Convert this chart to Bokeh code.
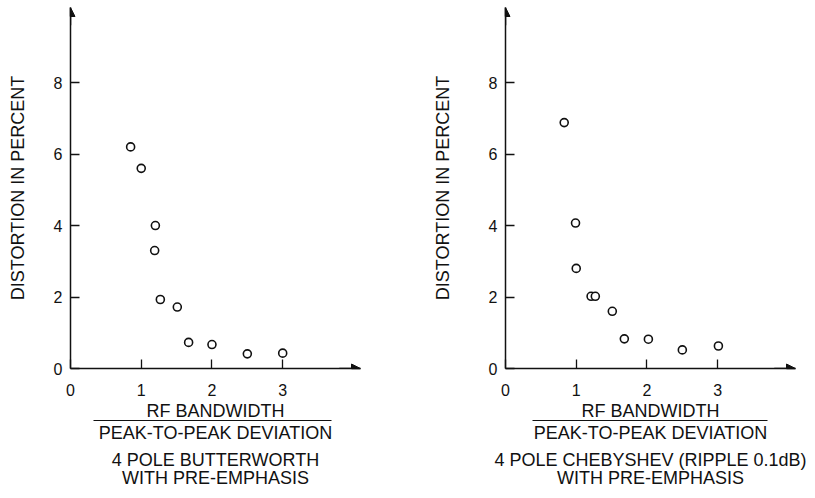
from bokeh.plotting import figure
from bokeh.layouts import row
from bokeh.models import Range1d, FixedTicker, Arrow, NormalHead, Title, LinearAxis
from bokeh.embed import file_html
from bokeh.resources import INLINE

# ---- data ----
butter_x = [0.85, 1.0, 1.2, 1.19, 1.27, 1.51, 1.67, 2.0, 2.5, 3.0]
butter_y = [6.2, 5.6, 4.0, 3.3, 1.93, 1.72, 0.73, 0.67, 0.41, 0.43]
cheby_x = [0.83, 0.99, 1.0, 1.21, 1.27, 1.51, 1.68, 2.02, 2.5, 3.01]
cheby_y = [6.88, 4.07, 2.8, 2.02, 2.02, 1.6, 0.83, 0.82, 0.52, 0.63]
x_ticks = [0, 1, 2, 3]
y_ticks = [0, 2, 4, 6, 8]
y_label = "DISTORTION IN PERCENT"
x_label_top = "RF BANDWIDTH"
x_label_bottom = "PEAK-TO-PEAK DEVIATION"
caption_butter = ["4 POLE BUTTERWORTH", "WITH PRE-EMPHASIS"]
caption_cheby = ["4 POLE CHEBYSHEV (RIPPLE 0.1dB)", "WITH PRE-EMPHASIS"]

FONT = "Liberation Sans"
INK = "#111111"
X_MAX = 4.1
Y_MAX = 10.1


def title(text, standoff, **kw):
    return Title(text=text, align="center", standoff=standoff,
                 text_font=FONT, text_font_size="18px", text_font_style="normal",
                 text_color=INK, **kw)


def make(xs, ys, caption, width, b_left, b_right, label_standoff, frac_bounds):
    p = figure(width=width, height=498, output_backend="svg", toolbar_location=None,
               x_range=Range1d(0, X_MAX), y_range=Range1d(0, Y_MAX),
               min_border_left=b_left, min_border_right=b_right,
               min_border_top=7, min_border_bottom=130)
    p.outline_line_color = None
    p.grid.visible = False
    p.background_fill_color = "white"

    # axes
    p.xaxis.ticker = FixedTicker(ticks=x_ticks)
    p.yaxis.ticker = FixedTicker(ticks=y_ticks)
    for ax in (p.xaxis, p.yaxis):
        ax.axis_line_color = INK
        ax.axis_line_width = 1.5
        ax.major_tick_line_color = INK
        ax.major_tick_line_width = 1.3
        ax.minor_tick_line_color = None
        ax.major_tick_in = 9
        ax.major_tick_out = 0
        ax.major_label_text_font = FONT
        ax.major_label_text_font_size = "16px"
        ax.major_label_text_color = INK
    p.xaxis.major_label_standoff = 15
    p.yaxis.major_label_standoff = 8
    p.yaxis.axis_label = y_label
    p.yaxis.axis_label_text_font = FONT
    p.yaxis.axis_label_text_font_size = "18px"
    p.yaxis.axis_label_text_font_style = "normal"
    p.yaxis.axis_label_text_color = INK
    p.yaxis.axis_label_standoff = label_standoff

    # arrowheads on the axes
    p.add_layout(Arrow(end=NormalHead(size=9, fill_color=INK, line_color=INK),
                       x_start=3.8, y_start=0, x_end=X_MAX, y_end=0,
                       line_color=INK, line_width=1.5))
    p.add_layout(Arrow(end=NormalHead(size=9, fill_color=INK, line_color=INK),
                       x_start=0, y_start=9.6, x_end=0, y_end=Y_MAX,
                       line_color=INK, line_width=1.5))

    # data
    p.scatter(xs, ys, marker="circle", size=8, fill_color="white",
              line_color=INK, line_width=1.6)

    # x-axis fraction label and captions (stacked below the x axis)
    p.add_layout(title(x_label_top, 0), "below")
    frac = LinearAxis(ticker=FixedTicker(ticks=[], minor_ticks=[]), bounds=frac_bounds,
                      axis_line_color=INK, axis_line_width=1.2,
                      major_tick_line_color=None, minor_tick_line_color=None,
                      major_label_text_font_size="0px")
    p.add_layout(frac, "below")
    p.add_layout(title(x_label_bottom, 0), "below")
    p.add_layout(title("\n".join(caption), 11, text_line_height=0.9,
                       text_align="center"), "below")
    return p


p1 = make(butter_x, butter_y, caption_butter, 407, 70, 47, 23, (0.33, 3.69))
p2 = make(cheby_x, cheby_y, caption_cheby, 408, 98, 20, 33, (0.38, 3.70))

layout = row(p1, p2)
open("out.html", "w").write(file_html(layout, INLINE))
